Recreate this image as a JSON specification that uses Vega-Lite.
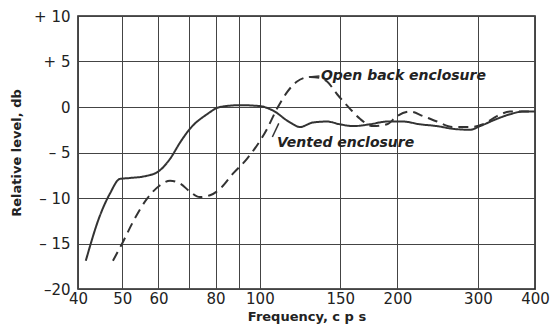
{
  "$schema": "https://vega.github.io/schema/vega-lite/v6.json",
  "width": 457,
  "height": 273,
  "autosize": {"type": "none"},
  "padding": {"left": 78, "top": 16, "right": 17, "bottom": 47},
  "background": "white",
  "config": {
    "view": {"stroke": "#222", "strokeWidth": 1.6},
    "font": "DejaVu Sans"
  },
  "datasets": {
    "curves": [
      {"f": 41.6, "db": -16.9, "s": "Vented"},
      {"f": 44.7, "db": -11.9, "s": "Vented"},
      {"f": 47.0, "db": -9.5, "s": "Vented"},
      {"f": 49.4, "db": -7.9, "s": "Vented"},
      {"f": 52.0, "db": -7.8, "s": "Vented"},
      {"f": 56.1, "db": -7.6, "s": "Vented"},
      {"f": 59.9, "db": -7.1, "s": "Vented"},
      {"f": 63.6, "db": -5.7, "s": "Vented"},
      {"f": 66.9, "db": -3.9, "s": "Vented"},
      {"f": 70.3, "db": -2.4, "s": "Vented"},
      {"f": 76.6, "db": -0.8, "s": "Vented"},
      {"f": 81.8, "db": 0.0, "s": "Vented"},
      {"f": 90.5, "db": 0.2, "s": "Vented"},
      {"f": 100, "db": 0.1, "s": "Vented"},
      {"f": 106.9, "db": -0.4, "s": "Vented"},
      {"f": 116.4, "db": -1.7, "s": "Vented"},
      {"f": 122.4, "db": -2.2, "s": "Vented"},
      {"f": 130.7, "db": -1.7, "s": "Vented"},
      {"f": 140.3, "db": -1.6, "s": "Vented"},
      {"f": 149.7, "db": -1.9, "s": "Vented"},
      {"f": 159.9, "db": -2.1, "s": "Vented"},
      {"f": 174.2, "db": -1.9, "s": "Vented"},
      {"f": 189.8, "db": -1.6, "s": "Vented"},
      {"f": 205.7, "db": -1.6, "s": "Vented"},
      {"f": 224.0, "db": -1.9, "s": "Vented"},
      {"f": 244.2, "db": -2.1, "s": "Vented"},
      {"f": 264.7, "db": -2.4, "s": "Vented"},
      {"f": 288.3, "db": -2.5, "s": "Vented"},
      {"f": 303.2, "db": -2.1, "s": "Vented"},
      {"f": 330.3, "db": -1.3, "s": "Vented"},
      {"f": 352.5, "db": -0.8, "s": "Vented"},
      {"f": 376.5, "db": -0.5, "s": "Vented"},
      {"f": 400, "db": -0.5, "s": "Vented"},
      {"f": 47.7, "db": -16.9, "s": "Open"},
      {"f": 50.2, "db": -14.8, "s": "Open"},
      {"f": 52.8, "db": -12.6, "s": "Open"},
      {"f": 56.6, "db": -10.1, "s": "Open"},
      {"f": 60.5, "db": -8.6, "s": "Open"},
      {"f": 63.6, "db": -8.1, "s": "Open"},
      {"f": 66.9, "db": -8.4, "s": "Open"},
      {"f": 70.3, "db": -9.3, "s": "Open"},
      {"f": 73.9, "db": -9.9, "s": "Open"},
      {"f": 77.8, "db": -9.7, "s": "Open"},
      {"f": 81.8, "db": -9.0, "s": "Open"},
      {"f": 87.4, "db": -7.3, "s": "Open"},
      {"f": 93.7, "db": -5.7, "s": "Open"},
      {"f": 103.7, "db": -2.4, "s": "Open"},
      {"f": 109.0, "db": -0.2, "s": "Open"},
      {"f": 114.6, "db": 1.6, "s": "Open"},
      {"f": 120.6, "db": 2.8, "s": "Open"},
      {"f": 128.8, "db": 3.3, "s": "Open"},
      {"f": 135.4, "db": 3.2, "s": "Open"},
      {"f": 140.3, "db": 2.8, "s": "Open"},
      {"f": 147.6, "db": 1.4, "s": "Open"},
      {"f": 157.5, "db": -0.2, "s": "Open"},
      {"f": 165.6, "db": -1.3, "s": "Open"},
      {"f": 176.9, "db": -2.1, "s": "Open"},
      {"f": 189.8, "db": -1.9, "s": "Open"},
      {"f": 199.6, "db": -1.0, "s": "Open"},
      {"f": 213.2, "db": -0.5, "s": "Open"},
      {"f": 227.6, "db": -1.0, "s": "Open"},
      {"f": 244.2, "db": -1.6, "s": "Open"},
      {"f": 264.7, "db": -2.2, "s": "Open"},
      {"f": 288.3, "db": -2.2, "s": "Open"},
      {"f": 307.8, "db": -1.9, "s": "Open"},
      {"f": 330.3, "db": -1.0, "s": "Open"},
      {"f": 352.5, "db": -0.5, "s": "Open"},
      {"f": 400, "db": -0.5, "s": "Open"}
    ],
    "labels": [
      {"f": 136, "db": 3.4, "label": "Open back enclosure"},
      {"f": 109, "db": -4.0, "label": "Vented enclosure"}
    ],
    "leaders": [
      {"f": 128, "db": 3.3, "f2": 135, "db2": 3.4},
      {"f": 106.5, "db": -3.3, "f2": 110, "db2": -1.8}
    ]
  },
  "encoding": {
    "x": {
      "field": "f", "type": "quantitative",
      "scale": {"type": "log", "domain": [40, 400], "nice": false},
      "axis": {
        "title": "Frequency, c p s",
        "values": [40, 50, 60, 70, 80, 90, 100, 150, 200, 300, 400],
        "labelExpr": "datum.value == 70 || datum.value == 90 ? '' : datum.label",
        "format": "d",
        "grid": true, "gridColor": "#444", "gridOpacity": 1, "gridWidth": 1,
        "ticks": false, "domain": false,
        "labelFontSize": 15, "labelColor": "#222", "labelPadding": 2,
        "labelFlush": false, "labelOverlap": false,
        "titleFontSize": 13, "titleFontWeight": "bold", "titleColor": "#222", "titlePadding": 4
      }
    },
    "y": {
      "field": "db", "type": "quantitative",
      "scale": {"domain": [-20, 10], "nice": false},
      "axis": {
        "title": "Relative level, db",
        "values": [-20, -15, -10, -5, 0, 5, 10],
        "labelExpr": "datum.value > 0 ? '+ ' + datum.value : (datum.value == 0 ? '0' : (datum.value == -20 ? '\u201320' : '\u2013 ' + (-datum.value)))",
        "grid": true, "gridColor": "#444", "gridOpacity": 1, "gridWidth": 1,
        "ticks": false, "domain": false,
        "labelFontSize": 15, "labelColor": "#222", "labelPadding": 8,
        "labelFlush": false,
        "titleFontSize": 13, "titleFontWeight": "bold", "titleColor": "#222", "titlePadding": 10
      }
    }
  },
  "layer": [
    {
      "data": {"name": "curves"},
      "mark": {"type": "line", "interpolate": "monotone", "strokeWidth": 2, "color": "#333"},
      "encoding": {
        "detail": {"field": "s"},
        "strokeDash": {"field": "s", "type": "nominal", "scale": {"domain": ["Vented", "Open"], "range": [[1, 0], [10, 6]]}, "legend": null}
      }
    },
    {
      "data": {"name": "leaders"},
      "mark": {"type": "rule", "strokeWidth": 1.5, "color": "#333"},
      "encoding": {
        "x2": {"field": "f2"},
        "y2": {"field": "db2"}
      }
    },
    {
      "data": {"name": "labels"},
      "mark": {"type": "text", "align": "left", "baseline": "middle", "fontSize": 14, "fontStyle": "italic", "fontWeight": "bold", "color": "#222"},
      "encoding": {
        "text": {"field": "label"}
      }
    }
  ]
}
